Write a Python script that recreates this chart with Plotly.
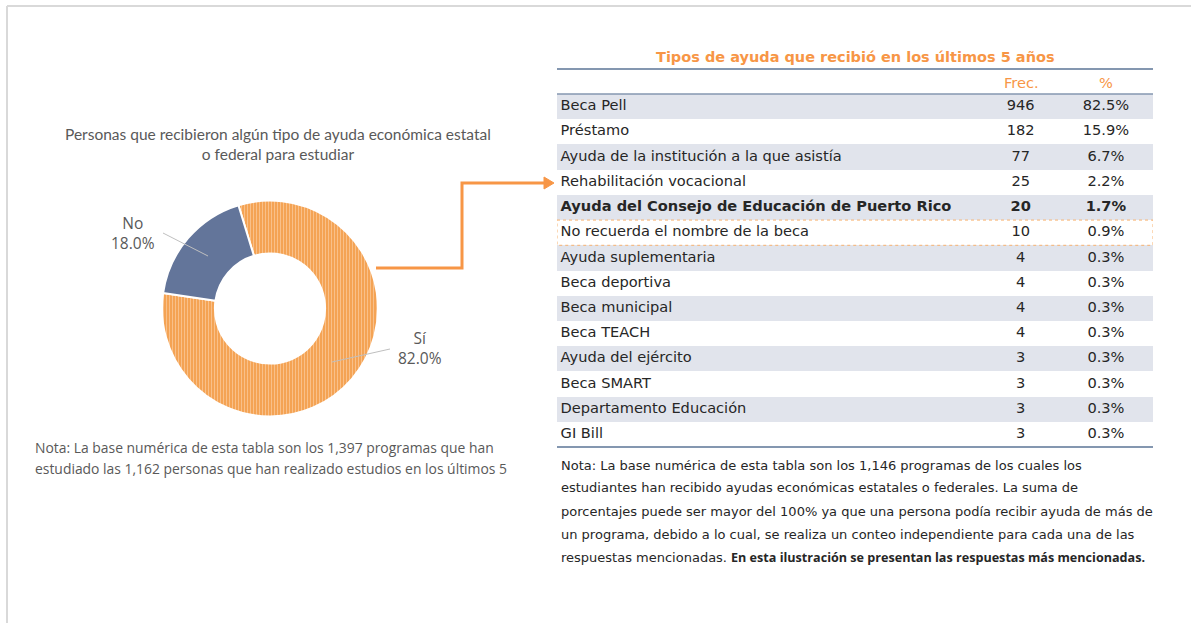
import plotly.graph_objects as go

W, H = 1191, 623

# ---- data ----
pie_labels = ["Sí", "No"]
pie_values = [82.0, 18.0]
pie_title = "Personas que recibieron algún tipo de ayuda económica estatal<br>o federal para estudiar"
pie_note = [
    "Nota: La base numérica de esta tabla son los 1,397 programas que han",
    "estudiado las 1,162 personas que han realizado estudios en los últimos 5",
]

table_title = "Tipos de ayuda que recibió en los últimos 5 años"
table_header = ["Frec.", "%"]
ayudas = [
    "Beca Pell",
    "Préstamo",
    "Ayuda de la institución a la que asistía",
    "Rehabilitación vocacional",
    "Ayuda del Consejo de Educación de Puerto Rico",
    "No recuerda el nombre de la beca",
    "Ayuda suplementaria",
    "Beca deportiva",
    "Beca municipal",
    "Beca TEACH",
    "Ayuda del ejército",
    "Beca SMART",
    "Departamento Educación",
    "GI Bill",
]
frec = [946, 182, 77, 25, 20, 10, 4, 4, 4, 4, 3, 3, 3, 3]
pct = [82.5, 15.9, 6.7, 2.2, 1.7, 0.9, 0.3, 0.3, 0.3, 0.3, 0.3, 0.3, 0.3, 0.3]
bold_row = "Ayuda del Consejo de Educación de Puerto Rico"
boxed_row = "No recuerda el nombre de la beca"
arrow_row = "Rehabilitación vocacional"
table_note = [
    "Nota: La base numérica de esta tabla son los 1,146 programas de los cuales los",
    "estudiantes han recibido ayudas económicas estatales o federales. La suma de",
    "porcentajes puede ser mayor del 100% ya que una persona podía recibir ayuda de más de",
    "un programa, debido a lo cual, se realiza un conteo independiente para cada una de las",
    "respuestas mencionadas.",
]
table_note_bold = "En esta ilustración se presentan las respuestas más mencionadas."

ORANGE = "#F79646"
GREY_TXT = "#595959"
DARK = "#262626"
RULE = "#8497B0"
SHADE = "#E1E4EC"
TFONT = "DejaVu Sans"


def px(x):
    return x / W


def py(y):
    return 1 - y / H


fig = go.Figure()

# donut
fig.add_trace(go.Pie(
    labels=pie_labels, values=pie_values, sort=False,
    direction="clockwise", rotation=-17, hole=0.51,
    textinfo="none", hoverinfo="label+percent",
    domain=dict(x=[px(162), px(378)], y=[py(417), py(200)]),
    marker=dict(
        colors=["#F39A43", "#63759A"],
        line=dict(color="white", width=2),
        pattern=dict(shape=["|", ""], bgcolor=["#F4A04E", "#63759A"], fgcolor=["#F9C089", "#63759A"],
                     fillmode="replace", size=3, solidity=0.4),
    ),
    showlegend=False,
))

# table: row shading
n = len(ayudas)
rows = list(range(n))
fig.add_trace(go.Bar(
    orientation="h", y=rows, x=[1] * n, width=1,
    marker=dict(color=[SHADE if i % 2 == 0 else "white" for i in rows], line=dict(width=0)),
    hoverinfo="skip", showlegend=False,
))

labels_txt = [f"<b>{a}</b>" if a == bold_row else a for a in ayudas]
frec_txt = [f"<b>{f}</b>" if a == bold_row else str(f) for a, f in zip(ayudas, frec)]
pct_txt = [f"<b>{p:.1f}%</b>" if a == bold_row else f"{p:.1f}%" for a, p in zip(ayudas, pct)]

tfont = dict(family=TFONT, size=14.6, color=DARK)
fig.add_trace(go.Scatter(x=[0.006] * n, y=rows, mode="text", text=labels_txt,
                         textposition="middle right", textfont=tfont,
                         hoverinfo="skip", showlegend=False))
fig.add_trace(go.Scatter(x=[0.778] * n, y=rows, mode="text", text=frec_txt,
                         textposition="middle center", textfont=tfont,
                         hoverinfo="skip", showlegend=False))
fig.add_trace(go.Scatter(x=[0.921] * n, y=rows, mode="text", text=pct_txt,
                         textposition="middle center", textfont=tfont,
                         hoverinfo="skip", showlegend=False))

fig.update_xaxes(domain=[px(557), px(1153)], range=[0, 1], visible=False, fixedrange=True)
fig.update_yaxes(domain=[py(447), py(94)], range=[n - 0.5, -0.5], visible=False, fixedrange=True)

shapes = []
# frame
shapes.append(dict(type="line", xref="paper", yref="paper", x0=px(7), x1=px(7), y0=0, y1=py(6),
                   line=dict(color="#D9D9D9", width=2)))
shapes.append(dict(type="line", xref="paper", yref="paper", x0=px(7), x1=1, y0=py(6), y1=py(6),
                   line=dict(color="#D9D9D9", width=2)))
# table rules
for yy, w in [(69, 2), (94, 1.5), (447, 2)]:
    shapes.append(dict(type="line", xref="paper", yref="paper", x0=px(557), x1=px(1153),
                       y0=py(yy), y1=py(yy), line=dict(color=RULE, width=w)))
# boxed row
bi = ayudas.index(boxed_row)
shapes.append(dict(type="rect", xref="x", yref="y", x0=0, x1=1, y0=bi - 0.5, y1=bi + 0.5,
                   line=dict(color="#F8B26E", width=1, dash="dot")))
# connector from donut to table
shapes.append(dict(type="path", xref="paper", yref="paper",
                   path=f"M {px(376)} {py(268)} L {px(462)} {py(268)} L {px(462)} {py(183)} L {px(546)} {py(183)}",
                   line=dict(color=ORANGE, width=3)))
# arrow head
shapes.append(dict(type="path", xref="paper", yref="paper",
                   path=f"M {px(544)} {py(177)} L {px(554)} {py(183)} L {px(544)} {py(189)} Z",
                   fillcolor=ORANGE, line=dict(color=ORANGE, width=1)))
# leader lines
shapes.append(dict(type="line", xref="paper", yref="paper", x0=px(163), y0=py(233), x1=px(208), y1=py(256),
                   line=dict(color="#BFBFBF", width=1)))
shapes.append(dict(type="line", xref="paper", yref="paper", x0=px(390), y0=py(349), x1=px(332), y1=py(362),
                   line=dict(color="#BFBFBF", width=1)))

ann = []


def txt(x, y, text, font, xanchor="center", **kw):
    ann.append(dict(xref="paper", yref="paper", x=px(x), y=py(y), text=text, showarrow=False,
                    xanchor=xanchor, yanchor="middle", font=font, **kw))


txt(278, 144, pie_title, dict(family="Lato", size=15.5, color=GREY_TXT), align="center")
txt(133, 233, f"{pie_labels[1]}<br>{pie_values[1]:.1f}%",
    dict(family="Open Sans", size=15.5, color=GREY_TXT), align="center")
txt(420, 348, f"{pie_labels[0]}<br>{pie_values[0]:.1f}%",
    dict(family="Open Sans", size=15.5, color=GREY_TXT), align="center")
for i, line in enumerate(pie_note):
    txt(33, 447 + 22 * i, line, dict(family="Open Sans", size=13.9, color=GREY_TXT), xanchor="left")
txt(855, 57, f"<b>{table_title}</b>", dict(family=TFONT, size=14.5, color=ORANGE))
for xx, t in zip([1021, 1106], table_header):
    txt(xx, 82, t, dict(family=TFONT, size=14.6, color=ORANGE))
for i, line in enumerate(table_note):
    txt(559, 465 + 23 * i, line, dict(family=TFONT, size=13, color=DARK), xanchor="left")
txt(729, 465 + 23 * 4, f"<b>{table_note_bold}</b>", dict(family="Open Sans", size=12.6, color=DARK), xanchor="left")

fig.update_layout(
    width=W, height=H, margin=dict(l=0, r=0, t=0, b=0),
    paper_bgcolor="white", plot_bgcolor="white",
    shapes=shapes, annotations=ann, bargap=0,
)

fig.write_html("out.html", config={"displayModeBar": False},
               post_script="document.body.style.margin='0';")
